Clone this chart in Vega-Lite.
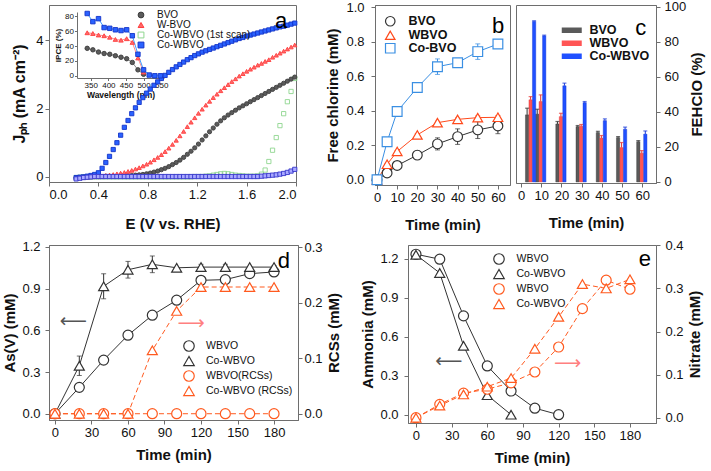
{
"$schema": "https://vega.github.io/schema/vega-lite/v6.json",
"padding": {"left": 2, "top": 0, "right": 2, "bottom": 0},
"config": {
  "font": "Liberation Sans",
  "view": {"stroke": "#6e6e6e", "strokeWidth": 1},
  "axis": {"grid": false, "labelOverlap": false, "domainColor": "#6e6e6e", "tickColor": "#6e6e6e", "labelColor": "#111111", "titleColor": "#111111", "labelFontSize": 12.5, "titleFontSize": 14.5, "titleFontWeight": "bold", "tickSize": 4, "labelPadding": 2, "labelFont": "Liberation Sans", "titleFont": "Liberation Sans"},
  "legend": {"labelFont": "Liberation Sans", "labelColor": "#111111", "padding": 0}
},
"datasets": {
  "pec": [
    {"series":"Co-WBVO (1st scan)","E":0.22,"J":-0.02},{"series":"Co-WBVO (1st scan)","E":0.25,"J":-0.01},{"series":"Co-WBVO (1st scan)","E":0.28,"J":0},{"series":"Co-WBVO (1st scan)","E":0.31,"J":0},{"series":"Co-WBVO (1st scan)","E":0.34,"J":0},{"series":"Co-WBVO (1st scan)","E":0.37,"J":0},{"series":"Co-WBVO (1st scan)","E":0.4,"J":0},{"series":"Co-WBVO (1st scan)","E":0.43,"J":0},{"series":"Co-WBVO (1st scan)","E":0.46,"J":0},{"series":"Co-WBVO (1st scan)","E":0.49,"J":0},{"series":"Co-WBVO (1st scan)","E":0.52,"J":0},{"series":"Co-WBVO (1st scan)","E":0.55,"J":0},{"series":"Co-WBVO (1st scan)","E":0.58,"J":0},{"series":"Co-WBVO (1st scan)","E":0.61,"J":0},{"series":"Co-WBVO (1st scan)","E":0.64,"J":0},{"series":"Co-WBVO (1st scan)","E":0.67,"J":0},{"series":"Co-WBVO (1st scan)","E":0.7,"J":0},{"series":"Co-WBVO (1st scan)","E":0.73,"J":0},{"series":"Co-WBVO (1st scan)","E":0.76,"J":0},{"series":"Co-WBVO (1st scan)","E":0.79,"J":0},{"series":"Co-WBVO (1st scan)","E":0.82,"J":0},{"series":"Co-WBVO (1st scan)","E":0.85,"J":0},{"series":"Co-WBVO (1st scan)","E":0.88,"J":0},{"series":"Co-WBVO (1st scan)","E":0.91,"J":0},{"series":"Co-WBVO (1st scan)","E":0.94,"J":0},{"series":"Co-WBVO (1st scan)","E":0.97,"J":0},{"series":"Co-WBVO (1st scan)","E":1.0,"J":0},{"series":"Co-WBVO (1st scan)","E":1.03,"J":0},{"series":"Co-WBVO (1st scan)","E":1.06,"J":0},{"series":"Co-WBVO (1st scan)","E":1.09,"J":0},{"series":"Co-WBVO (1st scan)","E":1.12,"J":0},{"series":"Co-WBVO (1st scan)","E":1.15,"J":0},{"series":"Co-WBVO (1st scan)","E":1.18,"J":0.01},{"series":"Co-WBVO (1st scan)","E":1.21,"J":0.01},{"series":"Co-WBVO (1st scan)","E":1.24,"J":0.01},{"series":"Co-WBVO (1st scan)","E":1.27,"J":0.02},{"series":"Co-WBVO (1st scan)","E":1.3,"J":0.03},{"series":"Co-WBVO (1st scan)","E":1.33,"J":0.05},{"series":"Co-WBVO (1st scan)","E":1.36,"J":0.07},{"series":"Co-WBVO (1st scan)","E":1.39,"J":0.09},{"series":"Co-WBVO (1st scan)","E":1.42,"J":0.1},{"series":"Co-WBVO (1st scan)","E":1.45,"J":0.09},{"series":"Co-WBVO (1st scan)","E":1.48,"J":0.07},{"series":"Co-WBVO (1st scan)","E":1.51,"J":0.05},{"series":"Co-WBVO (1st scan)","E":1.54,"J":0.04},{"series":"Co-WBVO (1st scan)","E":1.57,"J":0.03},{"series":"Co-WBVO (1st scan)","E":1.6,"J":0.02},{"series":"Co-WBVO (1st scan)","E":1.63,"J":0.02},{"series":"Co-WBVO (1st scan)","E":1.66,"J":0.02},{"series":"Co-WBVO (1st scan)","E":1.69,"J":0.03},{"series":"Co-WBVO (1st scan)","E":1.72,"J":0.08},{"series":"Co-WBVO (1st scan)","E":1.75,"J":0.2},{"series":"Co-WBVO (1st scan)","E":1.78,"J":0.45},{"series":"Co-WBVO (1st scan)","E":1.81,"J":0.78},{"series":"Co-WBVO (1st scan)","E":1.84,"J":1.15},{"series":"Co-WBVO (1st scan)","E":1.87,"J":1.5},{"series":"Co-WBVO (1st scan)","E":1.9,"J":1.85},{"series":"Co-WBVO (1st scan)","E":1.93,"J":2.2},{"series":"Co-WBVO (1st scan)","E":1.96,"J":2.5},{"series":"Co-WBVO (1st scan)","E":1.99,"J":2.88},
    {"series":"BVO","E":0.22,"J":-0.03},{"series":"BVO","E":0.25,"J":-0.02},{"series":"BVO","E":0.28,"J":-0.01},{"series":"BVO","E":0.31,"J":0},{"series":"BVO","E":0.34,"J":0},{"series":"BVO","E":0.37,"J":0.01},{"series":"BVO","E":0.4,"J":0.01},{"series":"BVO","E":0.43,"J":0.01},{"series":"BVO","E":0.46,"J":0.02},{"series":"BVO","E":0.49,"J":0.02},{"series":"BVO","E":0.52,"J":0.02},{"series":"BVO","E":0.55,"J":0.02},{"series":"BVO","E":0.58,"J":0.03},{"series":"BVO","E":0.61,"J":0.03},{"series":"BVO","E":0.64,"J":0.03},{"series":"BVO","E":0.67,"J":0.04},{"series":"BVO","E":0.7,"J":0.05},{"series":"BVO","E":0.73,"J":0.06},{"series":"BVO","E":0.76,"J":0.07},{"series":"BVO","E":0.79,"J":0.09},{"series":"BVO","E":0.82,"J":0.11},{"series":"BVO","E":0.85,"J":0.14},{"series":"BVO","E":0.88,"J":0.17},{"series":"BVO","E":0.91,"J":0.21},{"series":"BVO","E":0.94,"J":0.25},{"series":"BVO","E":0.97,"J":0.3},{"series":"BVO","E":1.0,"J":0.36},{"series":"BVO","E":1.03,"J":0.42},{"series":"BVO","E":1.06,"J":0.49},{"series":"BVO","E":1.09,"J":0.57},{"series":"BVO","E":1.12,"J":0.66},{"series":"BVO","E":1.15,"J":0.75},{"series":"BVO","E":1.18,"J":0.85},{"series":"BVO","E":1.21,"J":0.96},{"series":"BVO","E":1.24,"J":1.08},{"series":"BVO","E":1.27,"J":1.2},{"series":"BVO","E":1.3,"J":1.32},{"series":"BVO","E":1.33,"J":1.43},{"series":"BVO","E":1.36,"J":1.54},{"series":"BVO","E":1.39,"J":1.64},{"series":"BVO","E":1.42,"J":1.73},{"series":"BVO","E":1.45,"J":1.81},{"series":"BVO","E":1.48,"J":1.88},{"series":"BVO","E":1.51,"J":1.95},{"series":"BVO","E":1.54,"J":2.02},{"series":"BVO","E":1.57,"J":2.08},{"series":"BVO","E":1.6,"J":2.14},{"series":"BVO","E":1.63,"J":2.2},{"series":"BVO","E":1.66,"J":2.26},{"series":"BVO","E":1.69,"J":2.32},{"series":"BVO","E":1.72,"J":2.38},{"series":"BVO","E":1.75,"J":2.44},{"series":"BVO","E":1.78,"J":2.5},{"series":"BVO","E":1.81,"J":2.56},{"series":"BVO","E":1.84,"J":2.62},{"series":"BVO","E":1.87,"J":2.68},{"series":"BVO","E":1.9,"J":2.74},{"series":"BVO","E":1.93,"J":2.8},{"series":"BVO","E":1.96,"J":2.86},{"series":"BVO","E":1.99,"J":2.92},
    {"series":"W-BVO","E":0.22,"J":-0.02},{"series":"W-BVO","E":0.25,"J":-0.01},{"series":"W-BVO","E":0.28,"J":0},{"series":"W-BVO","E":0.31,"J":0},{"series":"W-BVO","E":0.34,"J":0.01},{"series":"W-BVO","E":0.37,"J":0.01},{"series":"W-BVO","E":0.4,"J":0.02},{"series":"W-BVO","E":0.43,"J":0.03},{"series":"W-BVO","E":0.46,"J":0.04},{"series":"W-BVO","E":0.49,"J":0.05},{"series":"W-BVO","E":0.52,"J":0.07},{"series":"W-BVO","E":0.55,"J":0.09},{"series":"W-BVO","E":0.58,"J":0.11},{"series":"W-BVO","E":0.61,"J":0.13},{"series":"W-BVO","E":0.64,"J":0.16},{"series":"W-BVO","E":0.67,"J":0.19},{"series":"W-BVO","E":0.7,"J":0.23},{"series":"W-BVO","E":0.73,"J":0.27},{"series":"W-BVO","E":0.76,"J":0.32},{"series":"W-BVO","E":0.79,"J":0.37},{"series":"W-BVO","E":0.82,"J":0.43},{"series":"W-BVO","E":0.85,"J":0.5},{"series":"W-BVO","E":0.88,"J":0.57},{"series":"W-BVO","E":0.91,"J":0.65},{"series":"W-BVO","E":0.94,"J":0.74},{"series":"W-BVO","E":0.97,"J":0.84},{"series":"W-BVO","E":1.0,"J":0.95},{"series":"W-BVO","E":1.03,"J":1.07},{"series":"W-BVO","E":1.06,"J":1.2},{"series":"W-BVO","E":1.09,"J":1.33},{"series":"W-BVO","E":1.12,"J":1.47},{"series":"W-BVO","E":1.15,"J":1.6},{"series":"W-BVO","E":1.18,"J":1.73},{"series":"W-BVO","E":1.21,"J":1.86},{"series":"W-BVO","E":1.24,"J":1.98},{"series":"W-BVO","E":1.27,"J":2.1},{"series":"W-BVO","E":1.3,"J":2.21},{"series":"W-BVO","E":1.33,"J":2.32},{"series":"W-BVO","E":1.36,"J":2.42},{"series":"W-BVO","E":1.39,"J":2.52},{"series":"W-BVO","E":1.42,"J":2.61},{"series":"W-BVO","E":1.45,"J":2.7},{"series":"W-BVO","E":1.48,"J":2.79},{"series":"W-BVO","E":1.51,"J":2.87},{"series":"W-BVO","E":1.54,"J":2.95},{"series":"W-BVO","E":1.57,"J":3.02},{"series":"W-BVO","E":1.6,"J":3.09},{"series":"W-BVO","E":1.63,"J":3.15},{"series":"W-BVO","E":1.66,"J":3.21},{"series":"W-BVO","E":1.69,"J":3.27},{"series":"W-BVO","E":1.72,"J":3.32},{"series":"W-BVO","E":1.75,"J":3.38},{"series":"W-BVO","E":1.78,"J":3.43},{"series":"W-BVO","E":1.81,"J":3.5},{"series":"W-BVO","E":1.84,"J":3.56},{"series":"W-BVO","E":1.87,"J":3.62},{"series":"W-BVO","E":1.9,"J":3.68},{"series":"W-BVO","E":1.93,"J":3.74},{"series":"W-BVO","E":1.96,"J":3.8},{"series":"W-BVO","E":1.99,"J":3.86},
    {"series":"Co-WBVO","E":0.22,"J":-0.02},{"series":"Co-WBVO","E":0.25,"J":-0.01},{"series":"Co-WBVO","E":0.28,"J":0},{"series":"Co-WBVO","E":0.31,"J":0.02},{"series":"Co-WBVO","E":0.34,"J":0.04},{"series":"Co-WBVO","E":0.37,"J":0.07},{"series":"Co-WBVO","E":0.4,"J":0.12},{"series":"Co-WBVO","E":0.43,"J":0.25},{"series":"Co-WBVO","E":0.46,"J":0.42},{"series":"Co-WBVO","E":0.49,"J":0.6},{"series":"Co-WBVO","E":0.52,"J":0.8},{"series":"Co-WBVO","E":0.55,"J":1.0},{"series":"Co-WBVO","E":0.58,"J":1.22},{"series":"Co-WBVO","E":0.61,"J":1.45},{"series":"Co-WBVO","E":0.64,"J":1.65},{"series":"Co-WBVO","E":0.67,"J":1.85},{"series":"Co-WBVO","E":0.7,"J":2.02},{"series":"Co-WBVO","E":0.73,"J":2.18},{"series":"Co-WBVO","E":0.76,"J":2.32},{"series":"Co-WBVO","E":0.79,"J":2.45},{"series":"Co-WBVO","E":0.82,"J":2.57},{"series":"Co-WBVO","E":0.85,"J":2.68},{"series":"Co-WBVO","E":0.88,"J":2.78},{"series":"Co-WBVO","E":0.91,"J":2.88},{"series":"Co-WBVO","E":0.94,"J":2.97},{"series":"Co-WBVO","E":0.97,"J":3.06},{"series":"Co-WBVO","E":1.0,"J":3.14},{"series":"Co-WBVO","E":1.03,"J":3.22},{"series":"Co-WBVO","E":1.06,"J":3.29},{"series":"Co-WBVO","E":1.09,"J":3.36},{"series":"Co-WBVO","E":1.12,"J":3.43},{"series":"Co-WBVO","E":1.15,"J":3.49},{"series":"Co-WBVO","E":1.18,"J":3.55},{"series":"Co-WBVO","E":1.21,"J":3.6},{"series":"Co-WBVO","E":1.24,"J":3.65},{"series":"Co-WBVO","E":1.27,"J":3.69},{"series":"Co-WBVO","E":1.3,"J":3.73},{"series":"Co-WBVO","E":1.33,"J":3.77},{"series":"Co-WBVO","E":1.36,"J":3.81},{"series":"Co-WBVO","E":1.39,"J":3.85},{"series":"Co-WBVO","E":1.42,"J":3.89},{"series":"Co-WBVO","E":1.45,"J":3.93},{"series":"Co-WBVO","E":1.48,"J":3.97},{"series":"Co-WBVO","E":1.51,"J":4.01},{"series":"Co-WBVO","E":1.54,"J":4.05},{"series":"Co-WBVO","E":1.57,"J":4.08},{"series":"Co-WBVO","E":1.6,"J":4.12},{"series":"Co-WBVO","E":1.63,"J":4.15},{"series":"Co-WBVO","E":1.66,"J":4.18},{"series":"Co-WBVO","E":1.69,"J":4.21},{"series":"Co-WBVO","E":1.72,"J":4.24},{"series":"Co-WBVO","E":1.75,"J":4.27},{"series":"Co-WBVO","E":1.78,"J":4.3},{"series":"Co-WBVO","E":1.81,"J":4.33},{"series":"Co-WBVO","E":1.84,"J":4.36},{"series":"Co-WBVO","E":1.87,"J":4.39},{"series":"Co-WBVO","E":1.9,"J":4.41},{"series":"Co-WBVO","E":1.93,"J":4.44},{"series":"Co-WBVO","E":1.96,"J":4.47},{"series":"Co-WBVO","E":1.99,"J":4.5},
    {"series":"Co-WBVO (dark)","E":0.22,"J":-0.06},{"series":"Co-WBVO (dark)","E":0.25,"J":-0.04},{"series":"Co-WBVO (dark)","E":0.28,"J":-0.02},{"series":"Co-WBVO (dark)","E":0.31,"J":-0.01},{"series":"Co-WBVO (dark)","E":0.34,"J":0},{"series":"Co-WBVO (dark)","E":0.37,"J":0.01},{"series":"Co-WBVO (dark)","E":0.4,"J":0.01},{"series":"Co-WBVO (dark)","E":0.43,"J":0.01},{"series":"Co-WBVO (dark)","E":0.46,"J":0.01},{"series":"Co-WBVO (dark)","E":0.49,"J":0.01},{"series":"Co-WBVO (dark)","E":0.52,"J":0.01},{"series":"Co-WBVO (dark)","E":0.55,"J":0.01},{"series":"Co-WBVO (dark)","E":0.58,"J":0.01},{"series":"Co-WBVO (dark)","E":0.61,"J":0.01},{"series":"Co-WBVO (dark)","E":0.64,"J":0.01},{"series":"Co-WBVO (dark)","E":0.67,"J":0.01},{"series":"Co-WBVO (dark)","E":0.7,"J":0.01},{"series":"Co-WBVO (dark)","E":0.73,"J":0.01},{"series":"Co-WBVO (dark)","E":0.76,"J":0.01},{"series":"Co-WBVO (dark)","E":0.79,"J":0.01},{"series":"Co-WBVO (dark)","E":0.82,"J":0.01},{"series":"Co-WBVO (dark)","E":0.85,"J":0.01},{"series":"Co-WBVO (dark)","E":0.88,"J":0.01},{"series":"Co-WBVO (dark)","E":0.91,"J":0.01},{"series":"Co-WBVO (dark)","E":0.94,"J":0.01},{"series":"Co-WBVO (dark)","E":0.97,"J":0.01},{"series":"Co-WBVO (dark)","E":1.0,"J":0.01},{"series":"Co-WBVO (dark)","E":1.03,"J":0.01},{"series":"Co-WBVO (dark)","E":1.06,"J":0.01},{"series":"Co-WBVO (dark)","E":1.09,"J":0.01},{"series":"Co-WBVO (dark)","E":1.12,"J":0.01},{"series":"Co-WBVO (dark)","E":1.15,"J":0.01},{"series":"Co-WBVO (dark)","E":1.18,"J":0.01},{"series":"Co-WBVO (dark)","E":1.21,"J":0.01},{"series":"Co-WBVO (dark)","E":1.24,"J":0.01},{"series":"Co-WBVO (dark)","E":1.27,"J":0.01},{"series":"Co-WBVO (dark)","E":1.3,"J":0.01},{"series":"Co-WBVO (dark)","E":1.33,"J":0.01},{"series":"Co-WBVO (dark)","E":1.36,"J":0.01},{"series":"Co-WBVO (dark)","E":1.39,"J":0.01},{"series":"Co-WBVO (dark)","E":1.42,"J":0.01},{"series":"Co-WBVO (dark)","E":1.45,"J":0.01},{"series":"Co-WBVO (dark)","E":1.48,"J":0.01},{"series":"Co-WBVO (dark)","E":1.51,"J":0.01},{"series":"Co-WBVO (dark)","E":1.54,"J":0.01},{"series":"Co-WBVO (dark)","E":1.57,"J":0.01},{"series":"Co-WBVO (dark)","E":1.6,"J":0.01},{"series":"Co-WBVO (dark)","E":1.63,"J":0.01},{"series":"Co-WBVO (dark)","E":1.66,"J":0.01},{"series":"Co-WBVO (dark)","E":1.69,"J":0.01},{"series":"Co-WBVO (dark)","E":1.72,"J":0.02},{"series":"Co-WBVO (dark)","E":1.75,"J":0.03},{"series":"Co-WBVO (dark)","E":1.78,"J":0.04},{"series":"Co-WBVO (dark)","E":1.81,"J":0.05},{"series":"Co-WBVO (dark)","E":1.84,"J":0.06},{"series":"Co-WBVO (dark)","E":1.87,"J":0.08},{"series":"Co-WBVO (dark)","E":1.9,"J":0.1},{"series":"Co-WBVO (dark)","E":1.93,"J":0.13},{"series":"Co-WBVO (dark)","E":1.96,"J":0.17},{"series":"Co-WBVO (dark)","E":1.99,"J":0.22}
  ],
  "ipce": [
    {"series":"BVO","wl":340,"ipce":37},{"series":"BVO","wl":356,"ipce":35},{"series":"BVO","wl":372,"ipce":32},{"series":"BVO","wl":388,"ipce":30},{"series":"BVO","wl":404,"ipce":29},{"series":"BVO","wl":420,"ipce":27},{"series":"BVO","wl":436,"ipce":25},{"series":"BVO","wl":452,"ipce":23},{"series":"BVO","wl":468,"ipce":18},{"series":"BVO","wl":484,"ipce":8},{"series":"BVO","wl":500,"ipce":2},
    {"series":"W-BVO","wl":340,"ipce":58},{"series":"W-BVO","wl":356,"ipce":57},{"series":"W-BVO","wl":372,"ipce":55},{"series":"W-BVO","wl":388,"ipce":54},{"series":"W-BVO","wl":404,"ipce":52},{"series":"W-BVO","wl":420,"ipce":49},{"series":"W-BVO","wl":436,"ipce":48},{"series":"W-BVO","wl":452,"ipce":50},{"series":"W-BVO","wl":468,"ipce":45},{"series":"W-BVO","wl":484,"ipce":24},{"series":"W-BVO","wl":500,"ipce":5},
    {"series":"Co-WBVO","wl":340,"ipce":84},{"series":"Co-WBVO","wl":356,"ipce":73},{"series":"Co-WBVO","wl":372,"ipce":77},{"series":"Co-WBVO","wl":388,"ipce":65},{"series":"Co-WBVO","wl":404,"ipce":64},{"series":"Co-WBVO","wl":420,"ipce":62},{"series":"Co-WBVO","wl":436,"ipce":61},{"series":"Co-WBVO","wl":452,"ipce":62},{"series":"Co-WBVO","wl":468,"ipce":54},{"series":"Co-WBVO","wl":484,"ipce":29},{"series":"Co-WBVO","wl":500,"ipce":8},{"series":"Co-WBVO","wl":516,"ipce":1},{"series":"Co-WBVO","wl":532,"ipce":0},{"series":"Co-WBVO","wl":548,"ipce":0}
  ],
  "chlorine": [
    {"series":"BVO","t":0,"v":0,"err":0},{"series":"BVO","t":5,"v":0.04,"err":0.01},{"series":"BVO","t":10,"v":0.083,"err":0.01},{"series":"BVO","t":20,"v":0.143,"err":0.025},{"series":"BVO","t":30,"v":0.208,"err":0.035},{"series":"BVO","t":40,"v":0.25,"err":0.045},{"series":"BVO","t":50,"v":0.289,"err":0.05},{"series":"BVO","t":60,"v":0.312,"err":0.045},
    {"series":"WBVO","t":0,"v":0,"err":0},{"series":"WBVO","t":5,"v":0.09,"err":0.005},{"series":"WBVO","t":10,"v":0.164,"err":0.005},{"series":"WBVO","t":20,"v":0.26,"err":0.008},{"series":"WBVO","t":30,"v":0.331,"err":0.008},{"series":"WBVO","t":40,"v":0.35,"err":0.008},{"series":"WBVO","t":50,"v":0.36,"err":0.01},{"series":"WBVO","t":60,"v":0.362,"err":0.01},
    {"series":"Co-BVO","t":0,"v":0,"err":0},{"series":"Co-BVO","t":5,"v":0.22,"err":0.01},{"series":"Co-BVO","t":10,"v":0.395,"err":0.01},{"series":"Co-BVO","t":20,"v":0.534,"err":0.01},{"series":"Co-BVO","t":30,"v":0.655,"err":0.045},{"series":"Co-BVO","t":40,"v":0.678,"err":0.025},{"series":"Co-BVO","t":50,"v":0.742,"err":0.045},{"series":"Co-BVO","t":60,"v":0.786,"err":0.01}
  ],
  "fe": [
    {"series":"BVO","t":5,"v":38.3,"hi":42.1},{"series":"BVO","t":10,"v":38.7,"hi":41.5},{"series":"BVO","t":20,"v":33.1,"hi":34.5},{"series":"BVO","t":30,"v":31.6,"hi":32.2},{"series":"BVO","t":40,"v":28.2,"hi":28.9},{"series":"BVO","t":50,"v":25.3,"hi":25.9},{"series":"BVO","t":60,"v":23,"hi":23.6},
    {"series":"WBVO","t":5,"v":46.9,"hi":48.7},{"series":"WBVO","t":10,"v":45.9,"hi":49.7},{"series":"WBVO","t":20,"v":37.3,"hi":39.2},{"series":"WBVO","t":30,"v":31.8,"hi":32.8},{"series":"WBVO","t":40,"v":25,"hi":26.5},{"series":"WBVO","t":50,"v":19.6,"hi":22.5},{"series":"WBVO","t":60,"v":16.4,"hi":17.9},
    {"series":"Co-WBVO","t":5,"v":91.6,"hi":92},{"series":"Co-WBVO","t":10,"v":83.4,"hi":83.8},{"series":"Co-WBVO","t":20,"v":54.9,"hi":56.4},{"series":"Co-WBVO","t":30,"v":45.3,"hi":45.9},{"series":"Co-WBVO","t":40,"v":35,"hi":36},{"series":"Co-WBVO","t":50,"v":30.1,"hi":31.3},{"series":"Co-WBVO","t":60,"v":27.3,"hi":29.1}
  ],
  "asv": [
    {"series":"WBVO","t":0,"v":0,"err":0},{"series":"WBVO","t":20,"v":0.19,"err":0},{"series":"WBVO","t":40,"v":0.386,"err":0},{"series":"WBVO","t":60,"v":0.565,"err":0},{"series":"WBVO","t":80,"v":0.709,"err":0},{"series":"WBVO","t":100,"v":0.817,"err":0},{"series":"WBVO","t":120,"v":0.96,"err":0.03},{"series":"WBVO","t":140,"v":0.965,"err":0.02},{"series":"WBVO","t":160,"v":1.008,"err":0.02},{"series":"WBVO","t":180,"v":1.02,"err":0.015},
    {"series":"Co-WBVO","t":0,"v":0,"err":0},{"series":"Co-WBVO","t":20,"v":0.345,"err":0.07},{"series":"Co-WBVO","t":40,"v":0.917,"err":0.09},{"series":"Co-WBVO","t":60,"v":1.036,"err":0.06},{"series":"Co-WBVO","t":80,"v":1.075,"err":0.06},{"series":"Co-WBVO","t":100,"v":1.05,"err":0},{"series":"Co-WBVO","t":120,"v":1.055,"err":0.02},{"series":"Co-WBVO","t":140,"v":1.055,"err":0.02},{"series":"Co-WBVO","t":160,"v":1.055,"err":0},{"series":"Co-WBVO","t":180,"v":1.055,"err":0.01}
  ],
  "rcs": [
    {"series":"WBVO(RCSs)","t":0,"v":0},{"series":"WBVO(RCSs)","t":20,"v":0},{"series":"WBVO(RCSs)","t":40,"v":0},{"series":"WBVO(RCSs)","t":60,"v":0},{"series":"WBVO(RCSs)","t":80,"v":0},{"series":"WBVO(RCSs)","t":100,"v":0},{"series":"WBVO(RCSs)","t":120,"v":0},{"series":"WBVO(RCSs)","t":140,"v":0},{"series":"WBVO(RCSs)","t":160,"v":0},{"series":"WBVO(RCSs)","t":180,"v":0},
    {"series":"Co-WBVO (RCSs)","t":0,"v":0},{"series":"Co-WBVO (RCSs)","t":20,"v":0},{"series":"Co-WBVO (RCSs)","t":40,"v":0},{"series":"Co-WBVO (RCSs)","t":60,"v":0},{"series":"Co-WBVO (RCSs)","t":80,"v":0.114},{"series":"Co-WBVO (RCSs)","t":100,"v":0.185},{"series":"Co-WBVO (RCSs)","t":120,"v":0.228},{"series":"Co-WBVO (RCSs)","t":140,"v":0.228},{"series":"Co-WBVO (RCSs)","t":160,"v":0.228},{"series":"Co-WBVO (RCSs)","t":180,"v":0.228}
  ],
  "nh": [
    {"series":"WBVO","t":0,"v":1.234},{"series":"WBVO","t":20,"v":1.196},{"series":"WBVO","t":40,"v":0.76},{"series":"WBVO","t":60,"v":0.375},{"series":"WBVO","t":80,"v":0.182},{"series":"WBVO","t":100,"v":0.05},{"series":"WBVO","t":120,"v":0.0},
    {"series":"Co-WBVO","t":0,"v":1.23},{"series":"Co-WBVO","t":20,"v":1.09},{"series":"Co-WBVO","t":40,"v":0.53},{"series":"Co-WBVO","t":60,"v":0.15},{"series":"Co-WBVO","t":80,"v":0.0}
  ],
  "no3": [
    {"series":"WBVO (nitrate)","t":0,"v":0},{"series":"WBVO (nitrate)","t":20,"v":0.031},{"series":"WBVO (nitrate)","t":40,"v":0.057},{"series":"WBVO (nitrate)","t":60,"v":0.066},{"series":"WBVO (nitrate)","t":80,"v":0.081},{"series":"WBVO (nitrate)","t":100,"v":0.106},{"series":"WBVO (nitrate)","t":120,"v":0.164},{"series":"WBVO (nitrate)","t":140,"v":0.253},{"series":"WBVO (nitrate)","t":160,"v":0.319},{"series":"WBVO (nitrate)","t":180,"v":0.298},
    {"series":"Co-WBVO (nitrate)","t":0,"v":0},{"series":"Co-WBVO (nitrate)","t":20,"v":0.028},{"series":"Co-WBVO (nitrate)","t":40,"v":0.054},{"series":"Co-WBVO (nitrate)","t":60,"v":0.072},{"series":"Co-WBVO (nitrate)","t":80,"v":0.092},{"series":"Co-WBVO (nitrate)","t":100,"v":0.16},{"series":"Co-WBVO (nitrate)","t":120,"v":0.234},{"series":"Co-WBVO (nitrate)","t":140,"v":0.31},{"series":"Co-WBVO (nitrate)","t":160,"v":0.3},{"series":"Co-WBVO (nitrate)","t":180,"v":0.321}
  ]
},
"resolve": {"scale": {"color": "independent", "fill": "independent", "stroke": "independent", "shape": "independent", "strokeDash": "independent"}},
"spacing": 5,
"vconcat": [
 {
  "spacing": 25,
  "resolve": {"scale": {"color": "independent", "fill": "independent", "stroke": "independent", "shape": "independent", "strokeDash": "independent"}},
  "hconcat": [
   {
    "width": 247, "height": 177,
    "resolve": {"scale": {"x": "independent", "y": "independent"}},
    "layer": [
     {
      "layer": [
       {
        "data": {"name": "pec"},
        "transform": [{"filter": "datum.series !== 'Co-WBVO (dark)'"}],
        "mark": {"type": "point", "size": 18, "strokeWidth": 0.9, "opacity": 1},
        "encoding": {
         "x": {"field": "E", "type": "quantitative", "scale": {"domain": [0, 2], "nice": false, "zero": false}, "axis": {"values": [0, 0.4, 0.8, 1.2, 1.6, 2.0], "format": ".1f", "title": "E (V vs. RHE)", "labelFontSize": 13, "titleFontSize": 15, "titlePadding": 15}},
         "y": {"field": "J", "type": "quantitative", "scale": {"domain": [-0.15, 5.03], "nice": false, "zero": false}, "axis": {"values": [0, 1, 2, 3, 4, 5], "title": "Jₚₕ (mA cm⁻²)", "labelFontSize": 13, "titleFontSize": 16, "titlePadding": 8}},
         "shape": {"field": "series", "type": "nominal", "scale": {"domain": ["BVO", "W-BVO", "Co-WBVO (1st scan)", "Co-WBVO"], "range": ["circle", "triangle-up", "square", "square"]}, "legend": {"title": null, "orient": "none", "legendX": 87, "legendY": 5, "labelFontSize": 10, "symbolSize": 34, "rowPadding": -2, "labelOffset": 11, "symbolStrokeWidth": 1}},
         "fill": {"field": "series", "type": "nominal", "scale": {"domain": ["BVO", "W-BVO", "Co-WBVO (1st scan)", "Co-WBVO"], "range": ["#5b5b5b", "#ff6a6a", "transparent", "#2a62ff"]}, "legend": {"title": null, "orient": "none", "legendX": 87, "legendY": 5, "labelFontSize": 10, "symbolSize": 34, "rowPadding": -2, "labelOffset": 11, "symbolStrokeWidth": 1}},
         "stroke": {"field": "series", "type": "nominal", "scale": {"domain": ["BVO", "W-BVO", "Co-WBVO (1st scan)", "Co-WBVO"], "range": ["#3c3c3c", "#ff3d3d", "#8fd68f", "#1434c8"]}, "legend": {"title": null, "orient": "none", "legendX": 87, "legendY": 5, "labelFontSize": 10, "symbolSize": 34, "rowPadding": -2, "labelOffset": 11, "symbolStrokeWidth": 1}}
        }
       },
       {
        "data": {"name": "pec"},
        "transform": [{"filter": "datum.series === 'Co-WBVO (dark)'"}],
        "mark": {"type": "point", "shape": "square", "size": 18, "strokeWidth": 0.9, "opacity": 1, "fill": "#a9a9ff", "stroke": "#3535cc"},
        "encoding": {"x": {"field": "E", "type": "quantitative"}, "y": {"field": "J", "type": "quantitative"}}
       }
      ]
     },
     {
      "data": {"name": "ipce"},
      "encoding": {
       "x": {"field": "wl", "type": "quantitative", "scale": {"domain": [311, 558], "range": [28, 115], "nice": false, "zero": false}, "axis": {"orient": "bottom", "offset": -104, "values": [350, 400, 450, 500, 550], "labelFontSize": 8, "title": "Wavelength (nm)", "titleFontSize": 8.5, "titlePadding": 1, "tickSize": 2.5, "labelPadding": 1}},
       "y": {"field": "ipce", "type": "quantitative", "scale": {"domain": [-3, 86], "range": [73, 7], "nice": false, "zero": false}, "axis": {"orient": "left", "offset": -28, "values": [0, 20, 40, 60, 80], "labelFontSize": 8, "title": "IPCE (%)", "titleFontSize": 8, "titlePadding": 2, "tickSize": 2.5, "labelPadding": 1}}
      },
      "layer": [
       {"mark": {"type": "line", "strokeWidth": 1}, "encoding": {"color": {"field": "series", "type": "nominal", "scale": {"domain": ["BVO", "W-BVO", "Co-WBVO"], "range": ["#888888", "#ff8a8a", "#3d9cff"]}, "legend": null}}},
       {"mark": {"type": "point", "size": 20, "strokeWidth": 0.9, "opacity": 1},
        "encoding": {
         "shape": {"field": "series", "type": "nominal"},
         "fill": {"field": "series", "type": "nominal"},
         "stroke": {"field": "series", "type": "nominal"}
        }}
      ]
     },
     {
      "data": {"values": [{"label": "a"}]},
      "mark": {"type": "text", "fontSize": 22, "align": "center", "baseline": "middle", "color": "#000000"},
      "encoding": {
       "x": {"datum": 1.88, "type": "quantitative", "scale": {"domain": [0, 2], "nice": false, "zero": false}, "axis": null},
       "y": {"datum": 4.55, "type": "quantitative", "scale": {"domain": [-0.15, 5.03], "nice": false, "zero": false}, "axis": null},
       "text": {"field": "label"}
      }
     }
    ]
   },
   {
    "spacing": 4,
    "resolve": {"scale": {"color": "independent", "fill": "independent", "stroke": "independent", "shape": "independent", "strokeDash": "independent"}},
    "hconcat": [
     {
      "width": 135, "height": 180,
      "resolve": {"scale": {"x": "independent", "y": "independent"}},
      "layer": [
       {
        "data": {"name": "chlorine"},
        "encoding": {
         "x": {"field": "t", "type": "quantitative", "scale": {"domain": [-1, 66], "nice": false, "zero": false}, "axis": {"values": [0, 10, 20, 30, 40, 50, 60], "title": "Time (min)", "titleFontSize": 15, "labelFontSize": 13, "titlePadding": 13}},
         "y": {"field": "v", "type": "quantitative", "scale": {"domain": [-0.03, 1.012], "nice": false, "zero": false}, "axis": {"values": [0, 0.2, 0.4, 0.6, 0.8, 1.0], "format": ".1f", "title": "Free chlorine (mM)", "titleFontSize": 15, "labelFontSize": 13, "labelPadding": 7, "titlePadding": 5}}
        },
        "layer": [
         {"transform": [{"filter": "datum.series === 'BVO'"}], "mark": {"type": "errorbar", "ticks": true, "thickness": 1, "color": "#333333"}, "encoding": {"yError": {"field": "err"}}},
         {"transform": [{"filter": "datum.series === 'WBVO'"}], "mark": {"type": "errorbar", "ticks": true, "thickness": 1, "color": "#ff4a1c"}, "encoding": {"yError": {"field": "err"}}},
         {"transform": [{"filter": "datum.series === 'Co-BVO'"}], "mark": {"type": "errorbar", "ticks": true, "thickness": 1, "color": "#3a8fe3"}, "encoding": {"yError": {"field": "err"}}},
         {"mark": {"type": "line", "strokeWidth": 1}, "encoding": {"color": {"field": "series", "type": "nominal"}}},
         {"mark": {"type": "point", "size": 95, "strokeWidth": 1.2, "fill": "white", "opacity": 1},
          "encoding": {
           "color": {"field": "series", "type": "nominal", "scale": {"domain": ["BVO", "WBVO", "Co-BVO"], "range": ["#333333", "#ff4a1c", "#3a8fe3"]}, "legend": {"title": null, "orient": "none", "legendX": 9, "legendY": 10, "labelFontSize": 12.5, "labelFontWeight": "bold", "symbolSize": 90, "symbolStrokeWidth": 1.2, "symbolFillColor": "white", "rowPadding": -1, "labelOffset": 12}},
           "shape": {"field": "series", "type": "nominal", "scale": {"domain": ["BVO", "WBVO", "Co-BVO"], "range": ["circle", "triangle-up", "square"]}, "legend": {"title": null, "orient": "none", "legendX": 9, "legendY": 10, "labelFontSize": 12.5, "labelFontWeight": "bold", "symbolSize": 90, "symbolStrokeWidth": 1.2, "symbolFillColor": "white", "rowPadding": -1, "labelOffset": 12}}
          }}
        ]
       },
       {
        "data": {"values": [{"label": "b"}]},
        "mark": {"type": "text", "fontSize": 22, "align": "center", "baseline": "middle", "color": "#000000"},
        "encoding": {
         "x": {"datum": 60.1, "type": "quantitative", "scale": {"domain": [-1, 66], "nice": false, "zero": false}, "axis": null},
         "y": {"datum": 0.89, "type": "quantitative", "scale": {"domain": [-0.03, 1.012], "nice": false, "zero": false}, "axis": null},
         "text": {"field": "label"}
        }
       }
      ]
     },
     {
      "width": 140, "height": 178,
      "resolve": {"scale": {"x": "independent", "y": "independent"}},
      "layer": [
       {
        "data": {"name": "fe"},
        "encoding": {
         "x": {"field": "t", "type": "quantitative", "scale": {"domain": [0, 64.3], "nice": false, "zero": false}, "axis": {"values": [0, 10, 20, 30, 40, 50, 60], "title": "Time (min)", "titleFontSize": 15, "labelFontSize": 13, "titlePadding": 13}},
         "y": {"field": "v", "type": "quantitative", "scale": {"domain": [-0.6, 101], "nice": false, "zero": false}, "axis": {"orient": "right", "values": [0, 20, 40, 60, 80, 100], "title": "FEHClO (%)", "titleAngle": 270, "titleBaseline": "top", "titleFontSize": 15, "labelFontSize": 13, "labelPadding": 4}}
        },
        "layer": [
         {"transform": [{"filter": "datum.series === 'BVO'"}], "mark": {"type": "bar", "width": 3.3, "xOffset": -4, "stroke": "#333333", "strokeWidth": 0.4}, "encoding": {"color": {"field": "series", "type": "nominal", "scale": {"domain": ["BVO", "WBVO", "Co-WBVO"], "range": ["#5a5a5a", "#ff5555", "#2050ff"]}, "legend": {"title": null, "orient": "none", "legendX": 49.5, "legendY": 19, "labelFontSize": 12.5, "labelFontWeight": "bold", "symbolType": "M-2,-0.55H2V0.55H-2Z", "symbolSize": 100, "symbolStrokeWidth": 0, "rowPadding": -0.5, "labelOffset": 11.5}}}},
         {"transform": [{"filter": "datum.series === 'WBVO'"}], "mark": {"type": "bar", "width": 3.3, "xOffset": -0.5, "stroke": "#e03030", "strokeWidth": 0.4}, "encoding": {"color": {"field": "series", "type": "nominal"}}},
         {"transform": [{"filter": "datum.series === 'Co-WBVO'"}], "mark": {"type": "bar", "width": 3.3, "xOffset": 3, "stroke": "#1030d0", "strokeWidth": 0.4}, "encoding": {"color": {"field": "series", "type": "nominal"}}},
         {"transform": [{"filter": "datum.series === 'BVO'"}], "mark": {"type": "rule", "xOffset": -4, "color": "#333333", "strokeWidth": 1}, "encoding": {"y2": {"field": "hi"}}},
         {"transform": [{"filter": "datum.series === 'WBVO'"}], "mark": {"type": "rule", "xOffset": -0.5, "color": "#e83030", "strokeWidth": 1}, "encoding": {"y2": {"field": "hi"}}},
         {"transform": [{"filter": "datum.series === 'Co-WBVO'"}], "mark": {"type": "rule", "xOffset": 3, "color": "#1a3ad8", "strokeWidth": 1}, "encoding": {"y2": {"field": "hi"}}},
         {"transform": [{"filter": "datum.series === 'BVO'"}], "mark": {"type": "tick", "orient": "horizontal", "xOffset": -4, "color": "#333333", "size": 4, "thickness": 1.2}, "encoding": {"y": {"field": "hi", "type": "quantitative"}}},
         {"transform": [{"filter": "datum.series === 'WBVO'"}], "mark": {"type": "tick", "orient": "horizontal", "xOffset": -0.5, "color": "#e83030", "size": 4, "thickness": 1.2}, "encoding": {"y": {"field": "hi", "type": "quantitative"}}},
         {"transform": [{"filter": "datum.series === 'Co-WBVO'"}], "mark": {"type": "tick", "orient": "horizontal", "xOffset": 3, "color": "#1a3ad8", "size": 4, "thickness": 1.2}, "encoding": {"y": {"field": "hi", "type": "quantitative"}}}
        ]
       },
       {
        "data": {"values": [{"label": "c"}]},
        "mark": {"type": "text", "fontSize": 22, "align": "center", "baseline": "middle", "color": "#000000"},
        "encoding": {
         "x": {"datum": 57.3, "type": "quantitative", "scale": {"domain": [0, 64.3], "nice": false, "zero": false}, "axis": null},
         "y": {"datum": 87.6, "type": "quantitative", "scale": {"domain": [-0.6, 101], "nice": false, "zero": false}, "axis": null},
         "text": {"field": "label"}
        }
       }
      ]
     }
    ]
   }
  ]
 },
 {
  "spacing": 18,
  "resolve": {"scale": {"color": "independent", "fill": "independent", "stroke": "independent", "shape": "independent", "strokeDash": "independent"}},
  "hconcat": [
   {
    "width": 249, "height": 175,
    "resolve": {"scale": {"y": "independent"}},
    "layer": [
     {
      "layer": [
       {
        "data": {"name": "asv"},
        "encoding": {
         "x": {"field": "t", "type": "quantitative", "scale": {"domain": [-4.9, 199.7], "nice": false, "zero": false}, "axis": {"values": [0, 30, 60, 90, 120, 150, 180], "title": "Time (min)", "titleFontSize": 15, "labelFontSize": 13, "titlePadding": 8}},
         "y": {"field": "v", "type": "quantitative", "scale": {"domain": [-0.045, 1.214], "nice": false, "zero": false}, "axis": {"values": [0, 0.3, 0.6, 0.9, 1.2], "format": ".1f", "title": "As(V) (mM)", "titleFontSize": 15, "labelFontSize": 13, "labelPadding": 5}}
        },
        "layer": [
         {"mark": {"type": "errorbar", "ticks": true, "thickness": 1, "color": "#333333"}, "encoding": {"yError": {"field": "err"}}},
         {"mark": {"type": "line", "strokeWidth": 1}, "encoding": {"color": {"field": "series", "type": "nominal"}}},
         {"mark": {"type": "point", "size": 100, "strokeWidth": 1.2, "fill": "white", "opacity": 1},
          "encoding": {
           "color": {"field": "series", "type": "nominal", "scale": {"domain": ["WBVO", "Co-WBVO", "WBVO(RCSs)", "Co-WBVO (RCSs)"], "range": ["#333333", "#333333", "#ff5a1f", "#ff5a1f"]}, "legend": {"title": null, "orient": "none", "legendX": 134, "legendY": 95, "labelFontSize": 10.5, "symbolSize": 110, "symbolStrokeWidth": 1.2, "symbolFillColor": "white", "rowPadding": 0, "labelOffset": 11}},
           "shape": {"field": "series", "type": "nominal", "scale": {"domain": ["WBVO", "Co-WBVO", "WBVO(RCSs)", "Co-WBVO (RCSs)"], "range": ["circle", "triangle-up", "circle", "triangle-up"]}, "legend": {"title": null, "orient": "none", "legendX": 134, "legendY": 95, "labelFontSize": 10.5, "symbolSize": 110, "symbolStrokeWidth": 1.2, "symbolFillColor": "white", "rowPadding": 0, "labelOffset": 11}}
          }}
        ]
       },
       {"data": {"values": [{"label": "⟵"}]}, "mark": {"type": "text", "font": "DejaVu Sans", "fontSize": 19, "align": "center", "baseline": "middle", "color": "#555555"}, "encoding": {"x": {"datum": 15.2}, "y": {"datum": 0.668}, "text": {"field": "label"}}},
       {"data": {"values": [{"label": "⟶"}]}, "mark": {"type": "text", "font": "DejaVu Sans", "fontSize": 19, "align": "center", "baseline": "middle", "color": "#ff8080"}, "encoding": {"x": {"datum": 111.8}, "y": {"datum": 0.654}, "text": {"field": "label"}}},
       {"data": {"values": [{"label": "d"}]}, "mark": {"type": "text", "fontSize": 22, "align": "center", "baseline": "middle", "color": "#000000"}, "encoding": {"x": {"datum": 188}, "y": {"datum": 1.1}, "text": {"field": "label"}}}
      ]
     },
     {
      "data": {"name": "rcs"},
      "encoding": {
       "x": {"field": "t", "type": "quantitative"},
       "y": {"field": "v", "type": "quantitative", "scale": {"domain": [-0.0113, 0.3036], "nice": false, "zero": false}, "axis": {"orient": "right", "values": [0, 0.1, 0.2, 0.3], "format": ".1f", "title": "RCSs (mM)", "titleAngle": 270, "titleBaseline": "top", "titleFontSize": 15, "labelFontSize": 13}}
      },
      "layer": [
       {"mark": {"type": "line", "strokeWidth": 1, "strokeDash": [5, 3]}, "encoding": {"color": {"field": "series", "type": "nominal"}}},
       {"mark": {"type": "point", "size": 100, "strokeWidth": 1.2, "fill": "white", "opacity": 1},
        "encoding": {
         "color": {"field": "series", "type": "nominal", "legend": {"title": null, "orient": "none", "legendX": 134, "legendY": 95, "labelFontSize": 10.5, "symbolSize": 110, "symbolStrokeWidth": 1.2, "symbolFillColor": "white", "rowPadding": 0, "labelOffset": 11}},
         "shape": {"field": "series", "type": "nominal", "legend": {"title": null, "orient": "none", "legendX": 134, "legendY": 95, "labelFontSize": 10.5, "symbolSize": 110, "symbolStrokeWidth": 1.2, "symbolFillColor": "white", "rowPadding": 0, "labelOffset": 11}}
        }}
      ]
     }
    ]
   },
   {
    "width": 248, "height": 178,
    "resolve": {"scale": {"y": "independent"}},
    "layer": [
     {
      "layer": [
       {
        "data": {"name": "nh"},
        "encoding": {
         "x": {"field": "t", "type": "quantitative", "scale": {"domain": [-6.7, 201.9], "nice": false, "zero": false}, "axis": {"values": [0, 30, 60, 90, 120, 150, 180], "title": "Time (min)", "titleFontSize": 15, "labelFontSize": 13, "titlePadding": 8}},
         "y": {"field": "v", "type": "quantitative", "scale": {"domain": [-0.064, 1.305], "nice": false, "zero": false}, "axis": {"values": [0, 0.3, 0.6, 0.9, 1.2], "format": ".1f", "title": "Ammonia (mM)", "titleFontSize": 15, "labelFontSize": 13, "labelPadding": 6}}
        },
        "layer": [
         {"mark": {"type": "line", "strokeWidth": 1}, "encoding": {"color": {"field": "series", "type": "nominal"}}},
         {"mark": {"type": "point", "size": 100, "strokeWidth": 1.2, "fill": "white", "opacity": 1},
          "encoding": {
           "color": {"field": "series", "type": "nominal", "scale": {"domain": ["WBVO", "Co-WBVO", "WBVO (nitrate)", "Co-WBVO (nitrate)"], "range": ["#333333", "#333333", "#ff5a1f", "#ff5a1f"]}, "legend": {"title": null, "orient": "none", "legendX": 85, "legendY": 8, "labelFontSize": 10.5, "symbolSize": 110, "symbolStrokeWidth": 1.2, "symbolFillColor": "white", "rowPadding": 0, "labelOffset": 11.5, "labelExpr": "replace(datum.label, ' (nitrate)', '')"}},
           "shape": {"field": "series", "type": "nominal", "scale": {"domain": ["WBVO", "Co-WBVO", "WBVO (nitrate)", "Co-WBVO (nitrate)"], "range": ["circle", "triangle-up", "circle", "triangle-up"]}, "legend": {"title": null, "orient": "none", "legendX": 85, "legendY": 8, "labelFontSize": 10.5, "symbolSize": 110, "symbolStrokeWidth": 1.2, "symbolFillColor": "white", "rowPadding": 0, "labelOffset": 11.5, "labelExpr": "replace(datum.label, ' (nitrate)', '')"}}
          }}
        ]
       },
       {"data": {"values": [{"label": "⟵"}]}, "mark": {"type": "text", "font": "DejaVu Sans", "fontSize": 19, "align": "center", "baseline": "middle", "color": "#555555"}, "encoding": {"x": {"datum": 27.7}, "y": {"datum": 0.41}, "text": {"field": "label"}}},
       {"data": {"values": [{"label": "⟶"}]}, "mark": {"type": "text", "font": "DejaVu Sans", "fontSize": 19, "align": "center", "baseline": "middle", "color": "#ff8080"}, "encoding": {"x": {"datum": 127.5}, "y": {"datum": 0.4}, "text": {"field": "label"}}},
       {"data": {"values": [{"label": "e"}]}, "mark": {"type": "text", "fontSize": 22, "align": "center", "baseline": "middle", "color": "#000000"}, "encoding": {"x": {"datum": 192.6}, "y": {"datum": 1.2}, "text": {"field": "label"}}}
      ]
     },
     {
      "data": {"name": "no3"},
      "encoding": {
       "x": {"field": "t", "type": "quantitative"},
       "y": {"field": "v", "type": "quantitative", "scale": {"domain": [-0.0123, 0.4007], "nice": false, "zero": false}, "axis": {"orient": "right", "values": [0, 0.1, 0.2, 0.3, 0.4], "format": ".1f", "title": "Nitrate (mM)", "titleAngle": 270, "titleBaseline": "top", "titleFontSize": 15, "labelFontSize": 13, "labelPadding": 5}}
      },
      "layer": [
       {"mark": {"type": "line", "strokeWidth": 1, "strokeDash": [5, 3]}, "encoding": {"color": {"field": "series", "type": "nominal"}}},
       {"mark": {"type": "point", "size": 100, "strokeWidth": 1.2, "fill": "white", "opacity": 1},
        "encoding": {
         "color": {"field": "series", "type": "nominal", "legend": {"title": null, "orient": "none", "legendX": 85, "legendY": 8, "labelFontSize": 10.5, "symbolSize": 110, "symbolStrokeWidth": 1.2, "symbolFillColor": "white", "rowPadding": 0, "labelOffset": 11.5, "labelExpr": "replace(datum.label, ' (nitrate)', '')"}},
         "shape": {"field": "series", "type": "nominal", "legend": {"title": null, "orient": "none", "legendX": 85, "legendY": 8, "labelFontSize": 10.5, "symbolSize": 110, "symbolStrokeWidth": 1.2, "symbolFillColor": "white", "rowPadding": 0, "labelOffset": 11.5, "labelExpr": "replace(datum.label, ' (nitrate)', '')"}}
        }}
      ]
     }
    ]
   }
  ]
 }
]
}
